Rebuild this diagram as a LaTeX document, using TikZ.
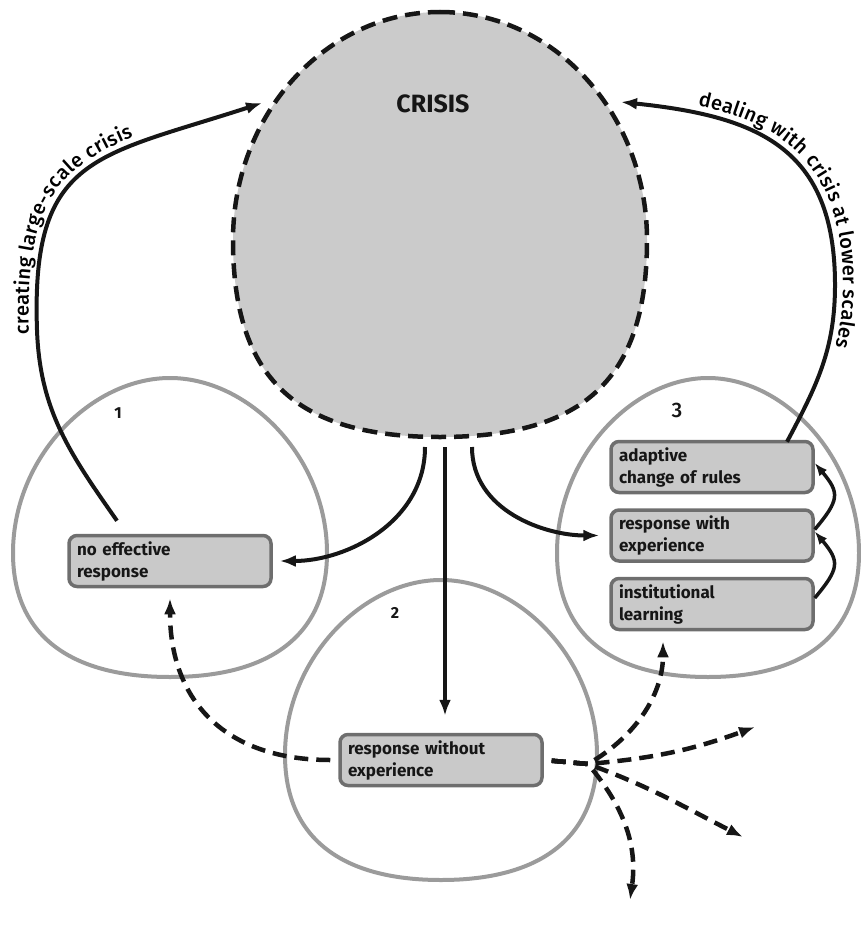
\documentclass[tikz,border=0pt]{standalone}
\usepackage{fontspec}
\setmainfont{Fira Sans}
\newfontfamily\medfont{Fira Sans Medium}
\usetikzlibrary{arrows.meta, positioning, calc, decorations.text}
\definecolor{crisisgray}{RGB}{203,203,203}
\definecolor{boxgray}{RGB}{201,201,201}
\definecolor{edgegray}{RGB}{110,110,110}
\definecolor{zonegray}{RGB}{155,155,155}
\definecolor{inkdark}{RGB}{22,22,22}
\tikzset{
  resp/.style={rectangle, draw=edgegray, fill=boxgray, line width=3.5pt,
    rounded corners=8pt, text width=186pt, inner xsep=8pt, inner ysep=3pt,
    minimum height=51pt, align=left, text=inkdark,
    font=\fontsize{17}{22}\selectfont\bfseries},
  arrow/.style={-{Latex[length=16pt,width=12pt]}, line width=4pt, color=inkdark},
  sarrow/.style={-{Latex[length=13pt,width=10pt]}, line width=3.5pt, color=inkdark},
  darrow/.style={-{Latex[length=16pt,width=12pt]}, line width=4.5pt,
    dash pattern=on 14pt off 8pt, color=inkdark},
  zone/.style={draw=zonegray, line width=4pt},
  crisis/.style={draw=inkdark, fill=crisisgray, line width=4.5pt,
    dash pattern=on 15pt off 8pt},
  zonenum/.style={font=\fontsize{16}{16}\selectfont\bfseries, text=inkdark},
  pics/egg/.style n args={3}{code={
    \draw[zone] (0,#2) .. controls (0.5*#1,#2) and (#1,0.55*#2) .. (#1,0)
      .. controls (#1,-0.65*#3) and (0.65*#1,-#3) .. (0,-#3)
      .. controls (-0.65*#1,-#3) and (-#1,-0.65*#3) .. (-#1,0)
      .. controls (-#1,0.55*#2) and (-0.5*#1,#2) .. cycle;
  }}
}
\begin{document}
\begin{tikzpicture}[x=1pt, y=1pt]
  \useasboundingbox (0,0) rectangle (861,-947);

  % the three response zones
  \pic at (170,-553) {egg={157}{175}{124}};
  \pic at (441,-755) {egg={156}{175}{125}};
  \pic at (708,-553) {egg={151}{175}{124}};
  \node [zonenum] at (118,-413) {1};
  \node [zonenum] at (395,-613) {2};
  \node [font=\fontsize{21}{21}\selectfont\medfont, text=inkdark] at (677,-410) {3};

  % crisis
  \draw [crisis] (440,-12) .. controls (554,-12) and (647,-114) .. (647,-240)
    .. controls (647,-378) and (585,-437) .. (440,-437)
    .. controls (295,-437) and (233,-378) .. (233,-240)
    .. controls (233,-114) and (326,-12) .. cycle;
  \coordinate (crisis) at (440,-240);
  \node [font=\fontsize{25}{25}\selectfont\bfseries, text=inkdark] (crisislabel) at (433,-104) {CRISIS};

  % responses
  \node [resp] (noresp) at (170,-561) {no effective\\response};
  \node [resp] (without) at (441,-760) {response without\\experience};
  \node [resp] (adaptive) at (712,-467) {adaptive\\change of rules};
  \node [resp, below=14pt of adaptive] (withexp) {response with\\experience};
  \node [resp, below=14pt of withexp] (learning) {institutional\\learning};

  % from crisis
  \coordinate (c1) at (425,-447);
  \coordinate (c2) at (445,-447);
  \coordinate (c3) at (472,-447);
  \draw [arrow, shorten >=7pt] (c1) to[out=-90, in=0] (noresp.east);
  \draw [arrow, shorten >=17pt] (c2) -- (c2 |- without.north);
  \draw [arrow, shorten >=10pt] (c3) to[out=-90, in=180] (withexp.west);

  % back to crisis
  \coordinate (lefttip) at (262,-103);
  \coordinate (righttip) at (621,-102);
  \draw [arrow] ([xshift=-53pt, yshift=13pt]noresp.north) to[out=125, in=-88] (37,-330)
    to[out=92, in=198, looseness=1.4] (lefttip);
  \path [postaction={decorate}, decoration={text along path, raise=8pt,
      text={|\fontsize{20}{20}\medfont|creating large-scale crisis}}]
    (37,-334) to[out=92, in=198, looseness=1.4] (lefttip);
  \draw [arrow] ([xshift=75pt, yshift=-2pt]adaptive.north) to[out=62, in=-90] (835,-285)
    to[out=90, in=-6, looseness=1.25] (righttip);
  \path [postaction={decorate}, decoration={text along path, raise=8pt,
      text align={left indent=76pt},
      text={|\fontsize{20}{20}\medfont|dealing with crisis at lower scales}}]
    (righttip) to[out=-6, in=90, looseness=1.25] (835,-285) to[out=-90, in=62] (787,-435);

  % learning steps
  \draw [sarrow] ([yshift=6pt]withexp.east) to[out=50, in=-50, looseness=1.5] ([yshift=4pt]adaptive.east);
  \draw [sarrow] ([yshift=6pt]learning.east) to[out=50, in=-50, looseness=1.5] ([yshift=4pt]withexp.east);

  % spreading without experience
  \coordinate (hub) at (588,-764);
  \coordinate (spread1) at (755,-727);
  \coordinate (spread2) at (743,-837);
  \coordinate (spread3) at (630,-900);
  \draw [darrow, shorten <=8pt, shorten >=10pt] (without.west) to[out=180, in=-90, looseness=1.2] (noresp.south);
  \draw [darrow, shorten <=8pt, shorten >=10pt] (without.east) -- (hub) to[out=30, in=-90] ([xshift=-49pt]learning.south);
  \draw [darrow, shorten <=8pt] (without.east) -- (hub) to[out=5, in=200] (spread1);
  \draw [darrow, shorten <=8pt] (without.east) -- (hub) to[out=-20, in=153] (spread2);
  \draw [darrow, shorten <=8pt] (without.east) -- (hub) to[out=-50, in=82] (spread3);
\end{tikzpicture}
\end{document}
